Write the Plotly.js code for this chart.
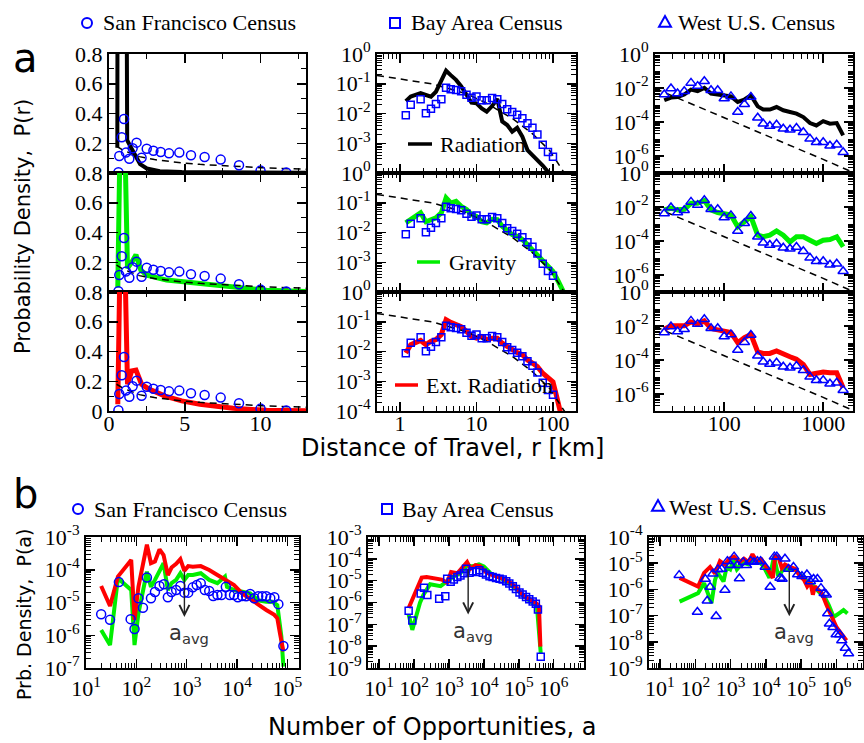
<!DOCTYPE html>
<html><head><meta charset="utf-8">
<script src="https://cdn.plot.ly/plotly-3.0.1.min.js"></script>
<style>html,body{margin:0;padding:0;background:#fff;}#chart{width:864px;height:743px;}</style>
</head><body><div id="chart"></div>
<script>
// ================= DATA =================
// --- (a) San Francisco: P(r), linear axes ---
const sfR = [0.62,0.68,0.84,0.99,1.12,1.34,1.56,1.82,2.15,2.49,2.93,3.41,3.96,4.64,5.41,6.31,7.37,8.58,10.0,11.7];
const sfP = [0.005,0.114,0.24,0.363,0.137,0.096,0.166,0.204,0.103,0.163,0.15,0.141,0.132,0.137,0.119,0.108,0.09,0.052,0.016,0.003];
const sfFitR = [0.5,1,1.5,2,3,4,5,6,8,10,13];
const sfFitP = [0.18,0.15,0.13,0.11,0.09,0.076,0.066,0.058,0.045,0.036,0.025];
const sfRadR = [0.55,0.58,1.1,1.2,1.46,1.72,2.05,2.5,3.35,4.8,7,10,13];
const sfRadP = [0.17,3.0,3.0,0.22,0.17,0.12,0.06,0.03,0.012,0.006,0.004,0.003,0.002];
const sfGravR = [0.58,0.8,1.05,1.22,1.5,1.78,2.1,2.5,3.8,6.0,8.2,10.4,13];
const sfGravP = [0.03,1.5,1.0,0.16,0.2,0.25,0.147,0.113,0.08,0.057,0.034,0.012,0.003];
const sfExtR = [0.58,0.8,1.05,1.22,1.5,1.78,2.15,2.6,3.7,4.8,6,8.2,10.4,13];
const sfExtP = [0.045,1.5,1.0,0.18,0.27,0.275,0.18,0.15,0.10,0.068,0.045,0.018,0.005,0.002];

// --- (a) Bay Area: P(r), log-log ---
const baR = [1.19,1.38,1.86,2.18,2.54,2.95,3.47,4.0,4.6,5.4,6.3,7.4,8.6,10,11.7,13.6,16,18.7,21.7,25.2,29.3,34,39.8,46.4,53.9,62.6,73.5,86,100];
const baP = [8.7e-3,1.95e-2,3.0e-2,1.02e-2,1.45e-2,2.1e-2,3.0e-2,7.4e-2,6.5e-2,6.2e-2,5.6e-2,4.3e-2,3.4e-2,3.7e-2,2.8e-2,2.8e-2,3.3e-2,3.0e-2,2.1e-2,1.4e-2,1.12e-2,9.1e-3,6.9e-3,4.7e-3,3.3e-3,1.95e-3,8.9e-4,5.1e-4,3.5e-4];
const baFitR = [0.5,1,2.7,7.4,13,30,55,91,136,200];
const baFitP = [0.19,0.145,0.098,0.046,0.0234,6.6e-3,2.0e-3,5.6e-4,1.2e-4,2.5e-5];
const baRadR = [1.19,1.38,1.86,2.18,2.54,2.95,3.47,4.0,4.6,5.4,6.3,7.4,8.6,10,11.7,13.6,16,18.7,21.7,25.2,29.3,34,39.8,46.4,53.9,62.6,73.5,86,100];
const baRadP = [2.6e-2,3.7e-2,4.8e-2,4.2e-2,3.7e-2,5.4e-2,0.135,0.275,0.195,0.135,8.3e-2,4.2e-2,2.3e-2,2.2e-2,1.48e-2,1.15e-2,1.78e-2,3.1e-2,5.4e-3,4.1e-3,2.45e-3,3.3e-3,1.66e-3,5.9e-4,4.1e-4,2.75e-4,1.78e-4,1.1e-4,5e-5];
const baGravR = [1.19,1.38,1.86,2.18,2.54,2.95,3.47,4.0,4.6,5.4,6.3,7.4,8.6,10,11.7,13.6,16,18.7,21.7,25.2,29.3,34,39.8,46.4,53.9,62.6,73.5,86,100,117,136];
const baGravP = [2.1e-2,2.7e-2,4.6e-2,2.3e-2,2.7e-2,3.1e-2,4.6e-2,0.145,9.8e-2,0.112,7.6e-2,5.9e-2,4.0e-2,3.5e-2,2.3e-2,2.1e-2,2.8e-2,2.7e-2,1.62e-2,1.1e-2,8.5e-3,7.4e-3,5.8e-3,3.9e-3,2.6e-3,1.66e-3,1.0e-3,6.5e-4,4.9e-4,2.3e-4,1.05e-4];
const baExtR = [1.19,1.38,1.86,2.18,2.54,2.95,3.47,4.0,4.6,5.4,6.3,7.4,8.6,10,11.7,13.6,16,18.7,21.7,25.2,29.3,34,39.8,46.4,53.9,62.6,73.5,86,100,112,125,135];
const baExtP = [8.9e-3,1.7e-2,2.35e-2,1.7e-2,2.2e-2,2.5e-2,3.7e-2,0.117,9.5e-2,7.9e-2,6.8e-2,4.8e-2,3.2e-2,2.8e-2,3.2e-2,2.5e-2,2.8e-2,2.8e-2,1.9e-2,1.48e-2,1.15e-2,9.3e-3,7.8e-3,5.2e-3,4.1e-3,3.1e-3,1.86e-3,1.26e-3,9.5e-4,3.0e-4,1.05e-4,4e-5];

// --- (a) West U.S.: P(r), log-log ---
const wuR = [24.8,29,33.8,39.5,46.2,53.9,63,73.6,86,100,117,137,160,186,218,248,289,338,395,462,537,630,735,853,1000,1170,1370,1590];
const wuP = [4.1e-3,9.3e-3,4.7e-3,6.5e-3,2.0e-2,1.29e-2,2.5e-2,7.4e-3,7.4e-3,2.4e-3,3.2e-3,3.9e-4,1.1e-3,2.95e-3,1.78e-4,7.9e-5,5.8e-5,6.9e-5,4.0e-5,3.5e-5,4.4e-5,2.5e-5,1.02e-5,6.5e-6,6.5e-6,4.0e-6,4.6e-6,1.66e-6];
const wuFitR = [20,50,100,200,500,1000,2000];
const wuFitP = [9.3e-3,1.0e-3,1.78e-4,3.2e-5,3.5e-6,6.3e-7,1.1e-7];
const wuRadP = [1.9e-3,2.75e-3,2.95e-3,4.1e-3,8.1e-3,6.5e-3,1.02e-2,4.7e-3,4.1e-3,3.7e-3,3.2e-3,1.51e-3,2.1e-3,3.7e-3,8.3e-4,5.4e-4,5.4e-4,7.6e-4,4.9e-4,3.9e-4,3.1e-4,1.95e-4,8.7e-5,6.3e-5,1.12e-4,7.9e-5,8.7e-5,1.62e-5];
const wuGravP = [6.8e-3,8.5e-3,6.8e-3,7.4e-3,1.66e-2,1.66e-2,2.4e-2,6.8e-3,4.7e-3,4.3e-3,3.4e-3,6.9e-4,1.38e-3,2.7e-3,2.2e-4,1.78e-4,2.2e-4,3.9e-4,2.2e-4,8.9e-5,1.78e-4,1.78e-4,1.12e-4,7.2e-5,1.12e-4,1.23e-4,1.78e-4,4.6e-5];
const wuExtP = [6.5e-3,1.02e-2,1.02e-2,1.02e-2,1.74e-2,1.29e-2,2.0e-2,7.1e-3,5.9e-3,5.1e-3,4.1e-3,1.05e-3,2.1e-3,3.2e-3,3.0e-4,2.45e-4,2.45e-4,3.4e-4,2.1e-4,1.55e-4,1.1e-4,5.5e-5,1.41e-5,1.78e-5,1.95e-5,1.78e-5,1.78e-5,2.3e-6];

// --- (b) P(a) ---
const sfA = [20,30,45,77,92,110,135,162,195,234,288,352,422,500,617,748,898,1070,1320,1580,1900,2290,2800,3360,4070,4900,5980,7180,8710,10350,12600,15100,18200,21900,26300,31600,38000,45700,55000,66100,83200];
const sfPa = [4.4e-6,2.95e-6,4.2e-5,3.1e-6,1.55e-6,1.35e-5,6.9e-6,5.8e-5,1.35e-5,2.1e-5,3.2e-5,3.6e-5,1.45e-5,2.1e-5,2.4e-5,3.2e-5,2.0e-5,2.0e-5,2.9e-5,3.4e-5,3.9e-5,2.4e-5,2.25e-5,1.58e-5,1.7e-5,1.7e-5,3.0e-5,1.7e-5,1.7e-5,1.45e-5,1.58e-5,1.55e-5,1.82e-5,1.35e-5,1.55e-5,1.55e-5,1.55e-5,1.35e-5,1.45e-5,8.9e-6,4.7e-7];
const sfExtA = [20,30,43,79,92,110,162,195,234,288,347,422,500,617,748,898,1070,1320,1900,2800,4070,5980,8710,12600,18200,26300,38000,55000,63000,70800,83200];
const sfExtPa = [3.2e-5,7.8e-6,6.2e-5,2.0e-4,2.95e-6,3.0e-5,5.8e-4,1.58e-4,1.78e-4,4.2e-4,2.8e-4,6.9e-5,1.17e-4,1.51e-4,2.1e-4,9.3e-5,1.29e-4,1.23e-4,1.29e-4,9.8e-5,6.9e-5,4.9e-5,3.4e-5,1.9e-5,1.26e-5,8.3e-6,5.9e-6,4.2e-6,3.3e-6,1.17e-6,3.2e-7];
const sfGravA = [20,30,43,79,92,110,162,195,234,288,347,422,500,617,748,898,1070,1320,1900,2800,4070,5750,6310,8710,12600,18200,26300,38000,50100,63000,75900,83200];
const sfGravPa = [1.45e-6,5.0e-7,5.5e-5,2.4e-5,5.0e-7,4.7e-6,8.7e-5,3.0e-5,4.9e-5,9.8e-5,1.58e-4,2.4e-5,3.9e-5,4.9e-5,7.8e-5,4.9e-5,6.9e-5,6.9e-5,7.8e-5,4.9e-5,3.9e-5,6.2e-5,3.0e-5,2.4e-5,2.1e-5,1.9e-5,1.17e-5,1.05e-5,1.05e-5,8.3e-6,9.1e-7,1.1e-7];

const baA = [70,89,155,193,240,525,785,890,1120,1380,1740,2140,2690,3090,3890,4790,6030,7410,9330,11500,14500,17800,22400,28200,34700,43700,53700,67600,83200,105000,129000,162000,200000,251000,309000,355000,427000];
const baPa = [4.2e-7,1.48e-7,2.6e-6,4.8e-6,2.2e-6,1.48e-6,1.95e-6,1.23e-5,8.9e-6,1.12e-5,1.48e-5,1.74e-5,2.2e-5,3.5e-5,2.3e-5,2.7e-5,2.5e-5,3.0e-5,2.3e-5,1.9e-5,1.58e-5,1.48e-5,1.32e-5,1.23e-5,1.12e-5,9.5e-6,7.4e-6,5.5e-6,4.2e-6,2.9e-6,2.3e-6,1.78e-6,1.41e-6,1.1e-6,8.7e-7,4.8e-7,3.3e-9];
const baExtA = [70,107,166,229,355,617,891,1150,1740,2690,3310,4170,5750,7940,11200,15500,21400,30200,41700,57500,81300,112000,155000,219000,302000,380000,417000];
const baExtPa = [5.6e-7,2.8e-6,1.38e-5,1.48e-5,1.26e-5,1.12e-5,8.1e-6,2.5e-5,2.2e-5,5.1e-5,7.2e-5,3.5e-5,5.1e-5,4.5e-5,2.5e-5,1.95e-5,1.66e-5,1.38e-5,1.12e-5,8.1e-6,5.2e-6,2.9e-6,1.78e-6,1.32e-6,1.0e-6,6.8e-7,9.5e-9];
const baGravA = [70,89,148,186,288,575,891,1380,2140,3310,4570,7240,10000,15500,24000,37200,57500,89100,138000,219000,331000,427000];
const baGravPa = [2.8e-7,5.6e-8,9.8e-7,2.3e-6,6.8e-6,5.6e-6,9.5e-6,1.58e-5,2.2e-5,5.1e-5,4.5e-5,5.6e-5,4.5e-5,2.2e-5,1.58e-5,1.12e-5,6.8e-6,4.0e-6,1.95e-6,1.1e-6,6.8e-7,4.7e-9];

const wuA = [35,115,191,219,263,316,389,437,562,692,813,1000,1260,1550,1780,2290,2820,3720,4570,5750,7080,9550,13200,17400,20400,25100,28800,34700,43700,60300,79400,105000,145000,182000,224000,288000,363000,447000,513000,562000,631000,794000,977000,1230000,1410000,1780000,2190000];
const wuPa = [3.5e-6,1.38e-7,2.5e-6,3.7e-7,1.23e-6,4.0e-6,9.5e-8,5.8e-6,6.0e-6,9.5e-7,1.2e-5,8.3e-6,1.78e-5,8.3e-6,2.6e-6,1.1e-5,8.3e-6,1.2e-5,1.1e-5,1.2e-5,1.2e-5,7.2e-6,1.23e-6,1.78e-5,1.78e-5,2.75e-6,2.5e-6,1.48e-5,6.0e-6,7.2e-6,3.7e-6,3.2e-6,3.7e-6,2.0e-6,2.5e-6,2.5e-6,1.12e-6,7.2e-7,6.3e-7,1.2e-7,4.9e-8,3.6e-8,1.9e-8,1.9e-8,1.12e-8,5.8e-9,3.6e-9];
const wuExtA = [36,120,178,263,363,501,692,933,1260,1780,2400,3240,4170,5500,7590,9550,11700,15800,18200,22400,28200,34700,47900,67600,93300,120000,148000,182000,214000,245000,309000,380000,525000,724000,1000000,1380000,1910000];
const wuExtPa = [2.75e-6,1.29e-6,4.3e-6,7.2e-6,4.0e-6,1.2e-5,8.9e-6,1.48e-5,1.78e-5,1.1e-5,1.48e-5,1.1e-5,2.2e-5,1.2e-5,1.38e-5,8.1e-6,6.0e-6,2.75e-6,1.86e-5,1.78e-5,6.6e-6,8.9e-6,7.2e-6,6.0e-6,3.2e-6,2.3e-6,1.29e-6,1.86e-6,6.3e-7,1.29e-6,9.5e-7,7.4e-7,2.5e-7,8.7e-8,3.6e-8,2.0e-8,1.12e-8];
const wuGravA = [36,120,178,209,288,363,427,501,631,776,977,1200,1510,1860,2400,3240,4470,6170,8510,12600,17000,22400,31600,43700,67600,93300,129000,182000,251000,347000,479000,603000,832000,1150000,1580000,2040000];
const wuGravPa = [3.4e-7,7.2e-7,1.74e-6,9.5e-7,3.0e-7,2.3e-6,4.3e-6,3.2e-6,2.0e-6,7.2e-6,5.8e-6,1.32e-5,5.8e-6,8.1e-6,1.02e-5,8.9e-6,1.38e-5,1.2e-5,7.8e-6,2.75e-6,1.78e-5,3.2e-6,6.0e-6,6.0e-6,5.8e-6,3.7e-6,2.3e-6,1.74e-6,1.12e-6,7.2e-7,4.6e-7,2.5e-7,8.9e-8,1.2e-7,1.62e-7,1.2e-7];

// average number of opportunities (arrows) and arrow tip level
const aAvg = [900, 3550, 46000];
const aAvgTipP = [3.6e-6, 2.8e-7, 9.5e-8];

// tick values / labels
const sfXTicks = [0,5,10];
const sfYTicks = [0.2,0.4,0.6,0.8];
const sfYTicksBottom = [0,0.2,0.4,0.6,0.8];
const baXTicks = [1,10,100];
const baYTicks = [1,1e-1,1e-2,1e-3];
const baYTicksBottom = [1,1e-1,1e-2,1e-3,1e-4];
const wuXTicks = [100,1000];
const wuYTicks = [1,1e-2,1e-4,1e-6];
const aTicks = [[10,100,1e3,1e4,1e5],[10,100,1e3,1e4,1e5,1e6],[10,100,1e3,1e4,1e5,1e6]];
const paTicks = [[1e-3,1e-4,1e-5,1e-6,1e-7],[1e-3,1e-4,1e-5,1e-6,1e-7,1e-8,1e-9],[1e-4,1e-5,1e-6,1e-7,1e-8,1e-9]];

// ================= STYLE / LAYOUT =================
const W=864,H=743;
const X=p=>p/W, Y=p=>1-p/H;
const BLUE='#0000ff', GREEN='#00ee00', RED='#ff0000', BLACK='#000000';
const serif='"Liberation Serif","Times New Roman",serif';
const sans='"DejaVu Sans","Open Sans",sans-serif';
const colsTop=[[109,306],[377,576],[655,853]];
const rowsTop=[[54,173],[173,292],[292,411]];
const colsBot=[[86,299],[368,584],[649,863]];
const rowBot=[537,668];

const powLab=v=>{const e=Math.round(Math.log10(v));return '10<sup>'+(e<0?'-':'')+Math.abs(e)+'</sup>';};
const minorLin=d=>({dtick:d,ticks:'inside',ticklen:5,tickwidth:1.2,tickcolor:'black',showgrid:false});
const minorLog={dtick:'D1',ticks:'inside',ticklen:5,tickwidth:1,tickcolor:'black',showgrid:false};
function baseAxis(extra){
  return Object.assign({showline:true,linecolor:'black',linewidth:2,mirror:'allticks',ticks:'inside',ticklen:9,tickwidth:1.5,tickcolor:'black',showgrid:false,zeroline:false,fixedrange:true,tickmode:'array',tickfont:{family:serif,size:22,color:'black'}},extra);
}
const layout={width:W,height:H,margin:{l:0,r:0,t:0,b:0},paper_bgcolor:'white',plot_bgcolor:'white',showlegend:false,annotations:[],shapes:[]};
const traces=[];
const nm=(p,i)=>i===1?p:p+i;
function L(x,y,i,color,width,dash){traces.push({type:'scatter',mode:'lines',x,y,xaxis:nm('x',i),yaxis:nm('y',i),line:{color,width,dash:dash||'solid'},hoverinfo:'skip',showlegend:false});}
function M(x,y,i,symbol,size){traces.push({type:'scatter',mode:'markers',x,y,xaxis:nm('x',i),yaxis:nm('y',i),marker:{symbol,size,color:BLUE,line:{color:BLUE,width:1.5}},hoverinfo:'skip',showlegend:false});}
const DASH='7px,5px';

// Top row axes
for(let c=0;c<3;c++){
  for(let r=0;r<3;r++){
    const i=c*3+r+1;
    const xd=[X(colsTop[c][0]),X(colsTop[c][1])];
    const yd=[Y(rowsTop[r][1]),Y(rowsTop[r][0])];
    let xa,ya;
    if(c===0){
      xa=baseAxis({domain:xd,anchor:nm('y',i),range:[0,13],tickvals:sfXTicks,ticktext:sfXTicks.map(String),minor:minorLin(2.5),showticklabels:r===2,ticklabelstandoff:-8});
      const yt=r===2?sfYTicksBottom:sfYTicks;
      ya=baseAxis({domain:yd,anchor:nm('x',i),range:[0,0.8],tickvals:yt,ticktext:yt.map(v=>String(v)),minor:minorLin(0.1)});
    } else if(c===1){
      xa=baseAxis({type:'log',domain:xd,anchor:nm('y',i),range:[Math.log10(0.5),Math.log10(200)],tickvals:baXTicks,ticktext:baXTicks.map(String),minor:minorLog,showticklabels:r===2,ticklabelstandoff:-8});
      const yt=r===2?baYTicksBottom:baYTicks;
      ya=baseAxis({type:'log',domain:yd,anchor:nm('x',i),range:[-4,0],tickvals:yt,ticktext:yt.map(powLab),minor:minorLog});
    } else {
      xa=baseAxis({type:'log',domain:xd,anchor:nm('y',i),range:[Math.log10(20),Math.log10(2000)],tickvals:wuXTicks,ticktext:wuXTicks.map(String),minor:minorLog,showticklabels:r===2,ticklabelstandoff:-8});
      ya=baseAxis({type:'log',domain:yd,anchor:nm('x',i),range:[-7,0],tickvals:wuYTicks,ticktext:wuYTicks.map(powLab),minor:minorLog});
    }
    layout[nm('xaxis',i)]=xa; layout[nm('yaxis',i)]=ya;
  }
}
// Bottom row axes
const aRanges=[[1,5.23],[0.68,6.87],[0.69,6.75]];
const pRanges=[[-7,-3],[-9,-3],[-9,-4]];
for(let c=0;c<3;c++){
  const i=10+c;
  layout['xaxis'+i]=baseAxis({type:'log',domain:[X(colsBot[c][0]),X(colsBot[c][1])],anchor:'y'+i,range:aRanges[c],tickvals:aTicks[c],ticktext:aTicks[c].map(powLab),minor:minorLog});
  layout['yaxis'+i]=baseAxis({type:'log',domain:[Y(rowBot[1]),Y(rowBot[0])],anchor:'x'+i,range:pRanges[c],tickvals:paTicks[c],ticktext:paTicks[c].map(powLab),minor:minorLog});
}

// ---- traces: top ----
L(sfRadR,sfRadP,1,BLACK,4); L(sfFitR,sfFitP,1,BLACK,1.5,DASH); M(sfR,sfP,1,'circle-open',9);
L(sfGravR,sfGravP,2,GREEN,5); L(sfFitR,sfFitP,2,BLACK,1.5,DASH); M(sfR,sfP,2,'circle-open',9);
L(sfExtR,sfExtP,3,RED,5); L(sfFitR,sfFitP,3,BLACK,1.5,DASH); M(sfR,sfP,3,'circle-open',9);
L(baRadR,baRadP,4,BLACK,4); L(baFitR,baFitP,4,BLACK,1.5,DASH); M(baR,baP,4,'square-open',7);
L(baGravR,baGravP,5,GREEN,5); L(baFitR,baFitP,5,BLACK,1.5,DASH); M(baR,baP,5,'square-open',7);
L(baExtR,baExtP,6,RED,5); L(baFitR,baFitP,6,BLACK,1.5,DASH); M(baR,baP,6,'square-open',7);
L(wuR,wuRadP,7,BLACK,4); L(wuFitR,wuFitP,7,BLACK,1.5,DASH); M(wuR,wuP,7,'triangle-up-open',9);
L(wuR,wuGravP,8,GREEN,5); L(wuFitR,wuFitP,8,BLACK,1.5,DASH); M(wuR,wuP,8,'triangle-up-open',9);
L(wuR,wuExtP,9,RED,5); L(wuFitR,wuFitP,9,BLACK,1.5,DASH); M(wuR,wuP,9,'triangle-up-open',9);
// ---- traces: bottom ----
L(sfGravA,sfGravPa,10,GREEN,4); L(sfExtA,sfExtPa,10,RED,4); M(sfA,sfPa,10,'circle-open',9);
L(baGravA,baGravPa,11,GREEN,4); L(baExtA,baExtPa,11,RED,4); M(baA,baPa,11,'square-open',7);
L(wuGravA,wuGravPa,12,GREEN,4); L(wuExtA,wuExtPa,12,RED,4); M(wuA,wuPa,12,'triangle-up-open',9);

// ---- a_avg arrows ----
for(let c=0;c<3;c++){
  const i=10+c;
  layout.annotations.push({xref:'x'+i,yref:'y'+i,x:Math.log10(aAvg[c]),y:Math.log10(aAvgTipP[c]),ax:0,ay:-47,showarrow:true,arrowhead:5,arrowsize:1.4,arrowwidth:1.4,arrowcolor:'#222',text:''});
  layout.annotations.push({xref:'x'+i,yref:'y'+i,x:Math.log10(aAvg[c]),y:Math.log10(aAvgTipP[c]),xanchor:'center',yanchor:'top',xshift:5,yshift:-2,showarrow:false,text:'a<sub>avg</sub>',font:{family:sans,size:21,color:'#333'}});
}

// ---- text annotations ----
const ann=(text,px,py,opt)=>layout.annotations.push(Object.assign({xref:'paper',yref:'paper',x:X(px),y:Y(py),text,showarrow:false,xanchor:'center',yanchor:'middle',font:{family:serif,size:22,color:'black'}},opt||{}));
ann('a',25,58,{font:{family:sans,size:40,color:'black'}});
ann('b',25,494,{font:{family:sans,size:40,color:'black'}});
ann('Probability Density,  P(r)',23,227,{textangle:-90,font:{family:sans,size:21,color:'black'}});
ann('Distance of Travel, r [km]',452,448,{font:{family:sans,size:24,color:'black'}});
ann('Prb. Density,  P(a)',24,615,{textangle:-90,font:{family:sans,size:19,color:'black'}});
ann('Number of Opportunities, a',432,727,{font:{family:sans,size:24,color:'black'}});
// headers
ann('San Francisco Census',101,23,{xanchor:'left'});
ann('Bay Area Census',409,23,{xanchor:'left'});
ann('West U.S. Census',676,22,{xanchor:'left'});
ann('San Francisco Census',92,509,{xanchor:'left'});
ann('Bay Area Census',400,509,{xanchor:'left'});
ann('West U.S. Census',667,507,{xanchor:'left'});
// in-panel legends
ann('Radiation',438,144,{xanchor:'left'});
ann('Gravity',447,262,{xanchor:'left'});
ann('Ext. Radiation',424,385,{xanchor:'left'});

// legend symbols (shapes in paper coords)
const sh=s=>layout.shapes.push(Object.assign({xref:'paper',yref:'paper',layer:'above'},s));
const circ=(cx,cy,r)=>sh({type:'circle',x0:X(cx-r),x1:X(cx+r),y0:Y(cy+r),y1:Y(cy-r),line:{color:BLUE,width:2}});
const sq=(cx,cy,r)=>sh({type:'rect',x0:X(cx-r),x1:X(cx+r),y0:Y(cy+r),y1:Y(cy-r),line:{color:BLUE,width:2}});
const tri=(cx,cy,r)=>sh({type:'path',path:`M ${X(cx-r)} ${Y(cy+r*0.8)} L ${X(cx+r)} ${Y(cy+r*0.8)} L ${X(cx)} ${Y(cy-r)} Z`,line:{color:BLUE,width:2}});
circ(87,23,5); sq(395,23,5); tri(665,22,6);
circ(78,509,5); sq(387,509,5); tri(658,506,6);
const seg=(x0,x1,y,color)=>sh({type:'line',x0:X(x0),x1:X(x1),y0:Y(y),y1:Y(y),line:{color,width:3.5}});
seg(408,432,144,BLACK); seg(417,440,262,GREEN); seg(395,418,385,RED);

Plotly.newPlot('chart',traces,layout,{staticPlot:true,displayModeBar:false});
</script></body></html>
